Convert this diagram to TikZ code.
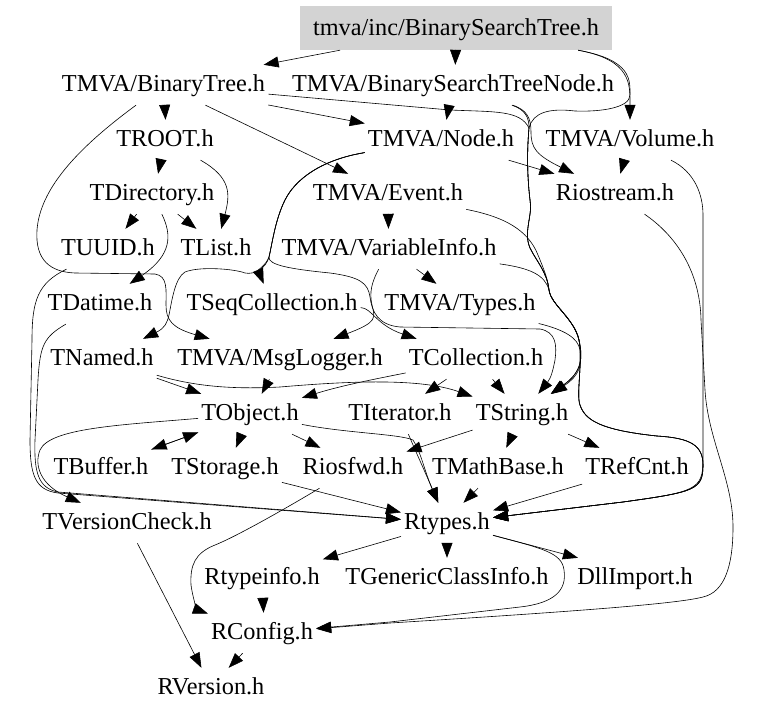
\documentclass[tikz,border=0pt]{standalone}
\usepackage{fontspec}
\setmainfont{Liberation Serif}
\usetikzlibrary{arrows.meta}
\definecolor{boxgray}{RGB}{211,211,211}
\begin{document}
\begin{tikzpicture}[x=1pt,y=-1pt,
  lbl/.style={font=\fontsize{24.3}{28}\selectfont, inner xsep=3pt, inner ysep=9pt, text height=17pt, text depth=5pt},
  e/.style={draw, line width=0.6pt, -{Triangle[length=15pt,width=11pt]}}]
\useasboundingbox (0,0) rectangle (779,712);
\node[lbl, fill=boxgray, minimum width=312pt, minimum height=44pt, inner sep=0pt, text height=20pt] (bst) at (456,28) {tmva/inc/BinarySearchTree.h};
\node[lbl] (bt) at (163.5,85) {TMVA/BinaryTree.h};
\node[lbl] (bstn) at (453,85) {TMVA/BinarySearchTreeNode.h};
\node[lbl] (troot) at (165,140) {TROOT.h};
\node[lbl] (node) at (441,140) {TMVA/Node.h};
\node[lbl] (vol) at (630,140) {TMVA/Volume.h};
\node[lbl] (tdir) at (152,194) {TDirectory.h};
\node[lbl] (event) at (388,194) {TMVA/Event.h};
\node[lbl] (rio) at (615,194) {Riostream.h};
\node[lbl] (tuuid) at (108,249) {TUUID.h};
\node[lbl] (tlist) at (216,249) {TList.h};
\node[lbl] (varinfo) at (389,249) {TMVA/VariableInfo.h};
\node[lbl] (tdatime) at (100,304) {TDatime.h};
\node[lbl] (tseq) at (272,304) {TSeqCollection.h};
\node[lbl] (types) at (460,304) {TMVA/Types.h};
\node[lbl] (tnamed) at (102,359) {TNamed.h};
\node[lbl] (msg) at (280,359) {TMVA/MsgLogger.h};
\node[lbl] (tcoll) at (476,359) {TCollection.h};
\node[lbl] (tobj) at (250,414) {TObject.h};
\node[lbl] (titer) at (400,414) {TIterator.h};
\node[lbl] (tstring) at (522,414) {TString.h};
\node[lbl] (tbuf) at (101,468) {TBuffer.h};
\node[lbl] (tstor) at (225,468) {TStorage.h};
\node[lbl] (riosfwd) at (353,468) {Riosfwd.h};
\node[lbl] (tmath) at (498,468) {TMathBase.h};
\node[lbl] (trefcnt) at (637,468) {TRefCnt.h};
\node[lbl] (tvc) at (127,523) {TVersionCheck.h};
\node[lbl] (rtypes) at (447,523) {Rtypes.h};
\node[lbl] (rtinfo) at (262,578) {Rtypeinfo.h};
\node[lbl] (tgci) at (447,578) {TGenericClassInfo.h};
\node[lbl] (dll) at (635,578) {DllImport.h};
\node[lbl] (rconfig) at (262,633) {RConfig.h};
\node[lbl] (rversion) at (211,688) {RVersion.h};

% top level
\draw[e] ([shift={(-119,22)}]bst) -- ([shift={(117.5,-23)}]bt);
\draw[e] ([shift={(1,22)}]bst) -- ([shift={(2,-19)}]bstn);
\draw[e] ([shift={(151,22)}]bst) .. controls (632,60) and (630,85) .. ([shift={(4,-22)}]vol);
\draw[e] ([shift={(151,22)}]bst) .. controls (632,60) and (630,80) .. (630,95) .. controls (630,108) and (600,112) .. (575,111) .. controls (550,108) and (533,112) .. (529,128) .. controls (527,150) and (527,175) .. (530,200) .. controls (533,215) and (523,232) .. (530,248) .. controls (537,262) and (547,272) .. (549,290) .. controls (551,305) and (574,318) .. (579,340) .. controls (583,360) and (576,395) .. (580,405) .. controls (585,420) and (600,430) .. (657,436) .. controls (690,438) and (703,445) .. (703,465) .. controls (703,490) and (695,492) .. (623,502) -- ([shift={(60,-7)}]rtypes);
% BinaryTree
\draw[e] ([shift={(2.5,17)}]bt) -- ([shift={(1,-20)}]troot);
\draw[e] ([shift={(48.5,20)}]bt) -- ([shift={(-43,-22)}]event);
\draw[e] ([shift={(116.5,20)}]bt) -- ([shift={(-77,-18)}]node);
\draw[e] ([shift={(119.5,20)}]bt) -- (450,110) .. controls (495,112) and (520,110) .. (529,128) .. controls (527,150) and (527,175) .. (530,200) .. controls (533,215) and (523,232) .. (530,248) .. controls (537,262) and (547,272) .. (549,290) .. controls (551,305) and (574,318) .. (579,340) .. controls (583,358) and (582,372) .. ([shift={(50,-28)}]tstring);
\draw[e] ([shift={(-43.5,20)}]bt) .. controls (75,150) and (40,190) .. (37,230) .. controls (35,260) and (50,272) .. (75,273) -- (155,274) .. controls (168,276) and (166,290) .. (166,305) .. controls (166,320) and (172,328) .. ([shift={(-92,-23)}]msg);
% BSTNode
\draw[e] ([shift={(-1,14)}]bstn) -- ([shift={(9,-20)}]node);
\draw[e] ([shift={(60,20)}]bstn) .. controls (527,110) and (531,118) .. (531,132) .. controls (531,148) and (536,155) .. ([shift={(-73,-25)}]rio);
\draw[e] ([shift={(63,20)}]bstn) .. controls (526,110) and (529,118) .. (529,128) .. controls (527,150) and (527,175) .. (530,200) .. controls (533,215) and (523,232) .. (530,248) .. controls (537,262) and (547,272) .. (549,290) .. controls (551,305) and (574,318) .. (579,340) .. controls (583,360) and (576,395) .. (580,405) .. controls (585,420) and (600,430) .. (657,436) .. controls (690,438) and (703,445) .. (703,465) .. controls (703,490) and (695,492) .. (623,502) -- ([shift={(60,-7)}]rtypes);
% Node
\draw[e] ([shift={(72,20)}]node) -- ([shift={(-73,-25)}]rio);
\draw[e] ([shift={(-83,11)}]node) .. controls (320,160) and (295,180) .. (285,200) .. controls (275,220) and (272,245) .. (269,257) .. controls (266,265) and (258,270) .. ([shift={(-26,-27)}]tseq);
\draw[e] ([shift={(-83,11)}]node) .. controls (320,160) and (295,180) .. (285,200) .. controls (275,220) and (272,245) .. (269,257) .. controls (268,265) and (290,269) .. (330,273) .. controls (360,277) and (368,283) .. (370,297) .. controls (372,312) and (378,325) .. (400,327) -- (540,329) .. controls (556,332) and (557,345) .. (555,360) .. controls (553,370) and (551,378) .. ([shift={(28,-28)}]tstring);
\draw[e] ([shift={(-83,11)}]node) .. controls (320,160) and (295,180) .. (285,200) .. controls (275,220) and (272,245) .. (269,257) .. controls (266,268) and (255,275) .. (245,273) .. controls (235,269) and (200,266) .. (185,272) .. controls (175,278) and (172,300) .. (169,315) .. controls (167,323) and (165,328) .. ([shift={(58,-26)}]tnamed);
% Volume
\draw[e] ([shift={(-5,16)}]vol) -- ([shift={(10,-21)}]rio);
\draw[e] ([shift={(48,20)}]vol) .. controls (695,172) and (703,195) .. (703,215) -- (703,460) .. controls (703,490) and (695,492) .. (623,502) -- ([shift={(60,-7)}]rtypes);
% Riostream
\draw[e] ([shift={(33,19)}]rio) .. controls (675,235) and (700,270) .. (701,320) -- (705,390) .. controls (708,440) and (733,480) .. (733,527) .. controls (733,565) and (725,592) .. (703,597) .. controls (680,603) and (600,610) .. (390,623) -- ([shift={(64,-5)}]rconfig);
% TROOT / TDirectory
\draw[e] ([shift={(-1,14)}]troot) -- ([shift={(10,-23)}]tdir);
\draw[e] ([shift={(52,20)}]troot) .. controls (232,178) and (230,195) .. ([shift={(12,-26)}]tlist);
\draw[e] ([shift={(-12,18)}]tdir) -- ([shift={(19,-23)}]tuuid);
\draw[e] ([shift={(28,18)}]tdir) -- ([shift={(-24,-23)}]tlist);
\draw[e] ([shift={(14,19)}]tdir) .. controls (172,235) and (172,255) .. ([shift={(56,-27)}]tdatime);
% Event / VariableInfo / Types
\draw[e] ([shift={(0,16)}]event) -- ([shift={(-1,-22)}]varinfo);
\draw[e] ([shift={(89,14)}]event) .. controls (505,217) and (528,230) .. (538,255) .. controls (545,272) and (548,280) .. (549,290) .. controls (551,305) and (574,318) .. (579,340) .. controls (583,358) and (582,372) .. ([shift={(50,-28)}]tstring);
\draw[e] ([shift={(29,19)}]varinfo) -- ([shift={(-26,-22)}]types);
\draw[e] ([shift={(-11,21)}]varinfo) .. controls (372,282) and (369,292) .. (372,305) .. controls (375,318) and (378,322) .. ([shift={(82,-24)}]msg);
\draw[e] ([shift={(121,14)}]varinfo) .. controls (530,268) and (545,275) .. (549,290) .. controls (551,305) and (574,318) .. (579,340) .. controls (583,360) and (576,395) .. (580,405) .. controls (585,420) and (600,430) .. (657,436) .. controls (690,438) and (703,445) .. (703,465) .. controls (703,490) and (695,492) .. (623,502) -- ([shift={(60,-7)}]rtypes);
\draw[e] ([shift={(90,18)}]types) .. controls (565,330) and (578,338) .. (580,350) .. controls (582,365) and (580,375) .. ([shift={(50,-28)}]tstring);
% TSeqCollection / TCollection
\draw[e] ([shift={(90,-5)}]tseq) .. controls (372,308) and (376,325) .. ([shift={(-82,-25)}]tcoll);
\draw[e] ([shift={(-76,17)}]tcoll) .. controls (370,380) and (340,386) .. ([shift={(56,-20)}]tobj);
\draw[e] ([shift={(-30,18)}]tcoll) -- ([shift={(38,-22)}]titer);
\draw[e] ([shift={(14,18)}]tcoll) -- ([shift={(-18,-22)}]tstring);
% TUUID / TDatime
\draw[e] ([shift={(-58,19)}]tuuid) .. controls (38,283) and (32,300) .. (32,340) -- (30,440) .. controls (30,475) and (35,490) .. (58,493) -- ([shift={(-57,-10)}]rtypes);
\draw[e] ([shift={(-48,23)}]tdatime) .. controls (44,337) and (40,345) .. (38,380) -- (35,440) .. controls (34,472) and (38,488) .. (58,492) -- ([shift={(-57,-10)}]rtypes);
% TNamed / MsgLogger
\draw[e] ([shift={(61,19)}]tnamed) -- ([shift={(-54,-21)}]tobj);
\draw[e] ([shift={(61,19)}]tnamed) .. controls (200,388) and (240,389) .. (280,387) .. controls (350,381) and (420,378) .. ([shift={(-59,-23)}]tstring);
\draw[e] ([shift={(-8,17)}]msg) -- ([shift={(16,-22)}]tobj);
% TObject
\draw[e] ([shift={(-57,3)}]tobj) .. controls (120,425) and (50,428) .. (40,450) .. controls (34,465) and (40,485) .. ([shift={(-77,-27)}]tvc);
\draw[e] ([shift={(-57,20)}]tobj) -- ([shift={(59,-22)}]tbuf);
\draw[e] ([shift={(59,-22)}]tbuf) -- ([shift={(-57,20)}]tobj);
\draw[e] ([shift={(-4,15)}]tobj) -- ([shift={(15,-22)}]tstor);
\draw[e] ([shift={(45,18)}]tobj) -- ([shift={(-45,-22)}]riosfwd);
\draw[e] ([shift={(60,13)}]tobj) .. controls (345,433) and (400,434) .. (413,440) .. controls (421,452) and (424,470) .. ([shift={(-19,-24)}]rtypes);
\draw[e] ([shift={(12,19)}]titer) .. controls (415,450) and (422,465) .. ([shift={(-19,-24)}]rtypes);
% TString
\draw[e] ([shift={(-55,19)}]tstring) -- ([shift={(64,-21)}]riosfwd);
\draw[e] ([shift={(-8,15)}]tstring) -- ([shift={(12,-22)}]tmath);
\draw[e] ([shift={(48,18)}]tstring) -- ([shift={(-47,-22)}]trefcnt);
% to Rtypes
\draw[e] ([shift={(65,19)}]tstor) -- ([shift={(-57,-10)}]rtypes);
\draw[e] ([shift={(-20,17)}]tmath) -- ([shift={(20,-23)}]rtypes);
\draw[e] ([shift={(-59,19)}]trefcnt) -- ([shift={(59,-18)}]rtypes);
\draw[e] ([shift={(-31,20)}]riosfwd) .. controls (300,500) and (240,535) .. (215,545) .. controls (195,553) and (190,565) .. (191,585) .. controls (193,600) and (198,610) .. ([shift={(-55,-15)}]rconfig);
% Rtypes out
\draw[e] ([shift={(-52,14)}]rtypes) -- ([shift={(73,-26)}]rtinfo);
\draw[e] ([shift={(0,17)}]rtypes) -- ([shift={(0,-21)}]tgci);
\draw[e] ([shift={(58,9)}]rtypes) -- ([shift={(-75,-27)}]dll);
\draw[e] ([shift={(58,15)}]rtypes) .. controls (540,548) and (562,552) .. (564,570) .. controls (567,590) and (555,603) .. (520,607) -- (390,622) -- ([shift={(64,-5)}]rconfig);
% bottom
\draw[e] ([shift={(3,16)}]rtinfo) -- ([shift={(3,-21)}]rconfig);
\draw[e] ([shift={(-16,15)}]rconfig) -- ([shift={(23,-22)}]rversion);
\draw[e] ([shift={(15,20)}]tvc) -- ([shift={(-13,-21)}]rversion);
\end{tikzpicture}
\end{document}
